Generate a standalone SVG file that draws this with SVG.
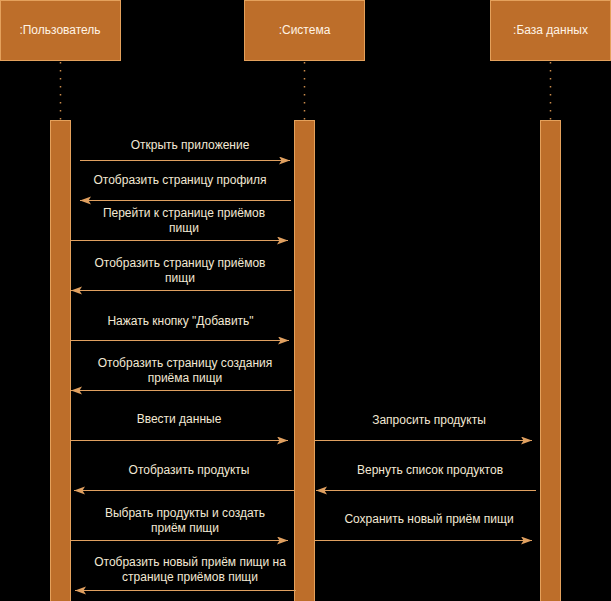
<svg xmlns="http://www.w3.org/2000/svg" width="611" height="601" viewBox="0 0 611 601">
<defs>
<style>
.box{fill:#bd6e2a;stroke:#e4a15c;stroke-width:1}
.life{stroke:#c98a4a;stroke-width:1.5;stroke-dasharray:1.5 6.5;fill:none}
.hdr{font-family:"Liberation Sans",Arial,sans-serif;font-size:12px;fill:#fff4e6;text-anchor:middle}
.lbl{font-family:"Liberation Sans",Arial,sans-serif;font-size:12px;fill:#f2e8d4;text-anchor:middle}
.msg{stroke:#e0a060;stroke-width:1.2;fill:none;marker-end:url(#ah)}
</style>
<marker id="ah" markerUnits="userSpaceOnUse" markerWidth="12" markerHeight="10" viewBox="0 0 12 10" refX="11" refY="4" orient="auto">
<path d="M0,0 L11,4 L0,8 L2.5,4 Z" fill="#e0a060"/>
</marker>
</defs>
<rect width="611" height="601" fill="#000"/>
<g id="user">
<rect class="box" x="0.5" y="0.5" width="120" height="60"/>
<text class="hdr" x="60" y="34">:Пользователь</text>
<line class="life" x1="60.5" y1="62" x2="60.5" y2="120"/>
<rect class="box" x="50.5" y="120.5" width="20" height="490"/>
</g>
<g id="system">
<rect class="box" x="244.5" y="0.5" width="120" height="60"/>
<text class="hdr" x="304.5" y="34">:Система</text>
<line class="life" x1="304.5" y1="62" x2="304.5" y2="120"/>
<rect class="box" x="294.5" y="120.5" width="20" height="490"/>
</g>
<g id="db">
<rect class="box" x="490.5" y="0.5" width="120" height="60"/>
<text class="hdr" x="550.5" y="34">:База данных</text>
<line class="life" x1="550.5" y1="62" x2="550.5" y2="120"/>
<rect class="box" x="540.5" y="120.5" width="20" height="490"/>
</g>
<g id="connectors">
<line class="msg" x1="80" y1="160.5" x2="290" y2="160.5"/>
<line class="msg" x1="291" y1="200.5" x2="80" y2="200.5"/>
<line class="msg" x1="71" y1="240.5" x2="288" y2="240.5"/>
<line class="msg" x1="291.5" y1="290.5" x2="71" y2="290.5"/>
<line class="msg" x1="71" y1="340.5" x2="289" y2="340.5"/>
<line class="msg" x1="291.5" y1="390.5" x2="71" y2="390.5"/>
<line class="msg" x1="71" y1="440.5" x2="288" y2="440.5"/>
<line class="msg" x1="315" y1="440.5" x2="532" y2="440.5"/>
<line class="msg" x1="294" y1="490.5" x2="74" y2="490.5"/>
<line class="msg" x1="536" y1="490.5" x2="316" y2="490.5"/>
<line class="msg" x1="71" y1="540.5" x2="288" y2="540.5"/>
<line class="msg" x1="315" y1="540.5" x2="532" y2="540.5"/>
<line class="msg" x1="296" y1="590.5" x2="75" y2="590.5"/>
</g>
<g id="labels">
<text class="lbl" x="190" y="149">Открыть приложение</text>
<text class="lbl" x="180" y="184">Отобразить страницу профиля</text>
<text class="lbl" x="184" y="217">Перейти к странице приёмов</text>
<text class="lbl" x="184" y="232">пищи</text>
<text class="lbl" x="180" y="267">Отобразить страницу приёмов</text>
<text class="lbl" x="180" y="282">пищи</text>
<text class="lbl" x="180.5" y="324.5">Нажать кнопку "Добавить"</text>
<text class="lbl" x="185" y="367">Отобразить страницу создания</text>
<text class="lbl" x="185" y="382">приёма пищи</text>
<text class="lbl" x="179" y="423">Ввести данные</text>
<text class="lbl" x="429" y="424">Запросить продукты</text>
<text class="lbl" x="189" y="474">Отобразить продукты</text>
<text class="lbl" x="430" y="474">Вернуть список продуктов</text>
<text class="lbl" x="185" y="517">Выбрать продукты и создать</text>
<text class="lbl" x="185" y="532">приём пищи</text>
<text class="lbl" x="429" y="523">Сохранить новый приём пищи</text>
<text class="lbl" x="190" y="566">Отобразить новый приём пищи на</text>
<text class="lbl" x="190" y="581">странице приёмов пищи</text>
</g>
</svg>
